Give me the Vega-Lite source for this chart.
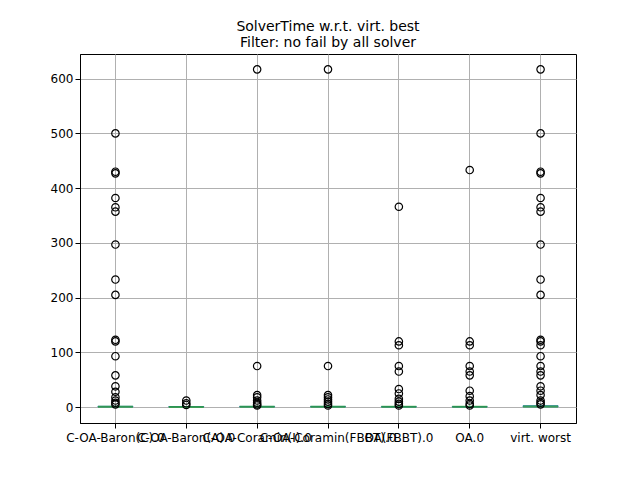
{
"$schema":"https://vega.github.io/schema/vega-lite/v6.json",
"width":496,"height":369,
"padding":{"left":50,"top":20,"right":5,"bottom":5},
"title":{"text":["SolverTime w.r.t. virt. best","Filter: no fail by all solver"],"fontSize":14,"fontWeight":"normal","font":"DejaVu Sans","color":"black","offset":4},
"config":{"view":{"stroke":"black"},"axis":{"labelFont":"DejaVu Sans","labelFontSize":12,"labelColor":"black","tickColor":"black","domainColor":"black","gridColor":"#b0b0b0","title":null}},
"datasets":{
"out":[
{"s":"C-OA-Baron(C).0","v":500},{"s":"C-OA-Baron(C).0","v":430},{"s":"C-OA-Baron(C).0","v":427},{"s":"C-OA-Baron(C).0","v":382},{"s":"C-OA-Baron(C).0","v":365},{"s":"C-OA-Baron(C).0","v":357},{"s":"C-OA-Baron(C).0","v":297},{"s":"C-OA-Baron(C).0","v":233},{"s":"C-OA-Baron(C).0","v":205},{"s":"C-OA-Baron(C).0","v":123},{"s":"C-OA-Baron(C).0","v":120},{"s":"C-OA-Baron(C).0","v":93},{"s":"C-OA-Baron(C).0","v":58},{"s":"C-OA-Baron(C).0","v":38},{"s":"C-OA-Baron(C).0","v":28},{"s":"C-OA-Baron(C).0","v":18},{"s":"C-OA-Baron(C).0","v":12},{"s":"C-OA-Baron(C).0","v":8},{"s":"C-OA-Baron(C).0","v":5},
{"s":"C-OA-Baron(A).0","v":12},{"s":"C-OA-Baron(A).0","v":7},{"s":"C-OA-Baron(A).0","v":4},
{"s":"C-OA-Coramin(I).0","v":617},{"s":"C-OA-Coramin(I).0","v":75},{"s":"C-OA-Coramin(I).0","v":22},{"s":"C-OA-Coramin(I).0","v":18},{"s":"C-OA-Coramin(I).0","v":12},{"s":"C-OA-Coramin(I).0","v":8},{"s":"C-OA-Coramin(I).0","v":5},{"s":"C-OA-Coramin(I).0","v":3},
{"s":"C-OA-Coramin(FBBT).0","v":617},{"s":"C-OA-Coramin(FBBT).0","v":75},{"s":"C-OA-Coramin(FBBT).0","v":22},{"s":"C-OA-Coramin(FBBT).0","v":18},{"s":"C-OA-Coramin(FBBT).0","v":14},{"s":"C-OA-Coramin(FBBT).0","v":10},{"s":"C-OA-Coramin(FBBT).0","v":6},{"s":"C-OA-Coramin(FBBT).0","v":3},
{"s":"OA(FBBT).0","v":366},{"s":"OA(FBBT).0","v":120},{"s":"OA(FBBT).0","v":113},{"s":"OA(FBBT).0","v":75},{"s":"OA(FBBT).0","v":65},{"s":"OA(FBBT).0","v":33},{"s":"OA(FBBT).0","v":25},{"s":"OA(FBBT).0","v":15},{"s":"OA(FBBT).0","v":10},{"s":"OA(FBBT).0","v":6},{"s":"OA(FBBT).0","v":3},
{"s":"OA.0","v":433},{"s":"OA.0","v":120},{"s":"OA.0","v":113},{"s":"OA.0","v":75},{"s":"OA.0","v":65},{"s":"OA.0","v":58},{"s":"OA.0","v":30},{"s":"OA.0","v":20},{"s":"OA.0","v":12},{"s":"OA.0","v":6},{"s":"OA.0","v":3},
{"s":"virt. worst","v":617},{"s":"virt. worst","v":500},{"s":"virt. worst","v":430},{"s":"virt. worst","v":427},{"s":"virt. worst","v":382},{"s":"virt. worst","v":365},{"s":"virt. worst","v":357},{"s":"virt. worst","v":297},{"s":"virt. worst","v":233},{"s":"virt. worst","v":205},{"s":"virt. worst","v":123},{"s":"virt. worst","v":120},{"s":"virt. worst","v":113},{"s":"virt. worst","v":93},{"s":"virt. worst","v":75},{"s":"virt. worst","v":65},{"s":"virt. worst","v":58},{"s":"virt. worst","v":38},{"s":"virt. worst","v":30},{"s":"virt. worst","v":22},{"s":"virt. worst","v":12},{"s":"virt. worst","v":8},{"s":"virt. worst","v":5}
],
"box":[
{"s":"C-OA-Baron(C).0","q1":0.3,"q3":1.5,"med":0.6,"hi":3},
{"s":"C-OA-Baron(A).0","q1":0.2,"q3":1,"med":0.4,"hi":2},
{"s":"C-OA-Coramin(I).0","q1":0.3,"q3":1.3,"med":0.6,"hi":2.5},
{"s":"C-OA-Coramin(FBBT).0","q1":0.3,"q3":1.3,"med":0.6,"hi":2.5},
{"s":"OA(FBBT).0","q1":0.2,"q3":1,"med":0.5,"hi":2},
{"s":"OA.0","q1":0.2,"q3":1,"med":0.5,"hi":2},
{"s":"virt. worst","q1":0.5,"q3":2.5,"med":1,"hi":5}
]},
"encoding":{
"x":{"field":"s","type":"nominal","sort":null,"scale":{"paddingInner":0,"paddingOuter":0,"domain":["C-OA-Baron(C).0","C-OA-Baron(A).0","C-OA-Coramin(I).0","C-OA-Coramin(FBBT).0","OA(FBBT).0","OA.0","virt. worst"]},"axis":{"labelAngle":0,"labelOverlap":false,"labelLimit":0,"grid":true,"bandPosition":0.5,"labelPadding":4}}
},
"layer":[
{"data":{"name":"box"},"mark":{"type":"rule","color":"black"},"encoding":{"y":{"field":"q1","type":"quantitative"},"y2":{"field":"hi"}}},
{"data":{"name":"box"},"mark":{"type":"bar","fill":"white","stroke":"#1f77b4","size":35},"encoding":{"y":{"field":"q1","type":"quantitative"},"y2":{"field":"q3"}}},
{"data":{"name":"box"},"mark":{"type":"tick","color":"#2ca02c","size":35,"thickness":2},"encoding":{"y":{"field":"med","type":"quantitative"}}},
{"data":{"name":"out"},"mark":{"type":"point","shape":"circle","filled":false,"stroke":"black","strokeWidth":1.2,"size":55,"opacity":1},
"encoding":{"y":{"field":"v","type":"quantitative","scale":{"domain":[-29,645],"nice":false,"zero":false},"axis":{"values":[0,100,200,300,400,500,600],"grid":true}}}}
]
}
